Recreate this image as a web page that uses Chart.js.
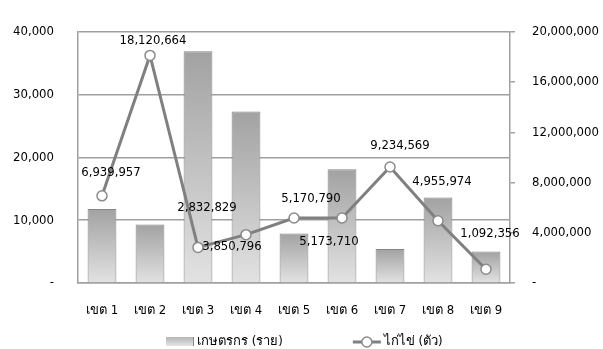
<!DOCTYPE html>
<html>
<head>
<meta charset="utf-8">
<script src="https://cdn.jsdelivr.net/npm/chart.js@4"></script>
<style>
  html, body { margin: 0; padding: 0; background: #fff; }
  #wrap { width: 603px; height: 349px; }
</style>
</head>
<body>
<div id="wrap"><canvas id="myChart" width="603" height="349"></canvas></div>
<script>
// data
const categories = ['เขต 1', 'เขต 2', 'เขต 3', 'เขต 4', 'เขต 5', 'เขต 6', 'เขต 7', 'เขต 8', 'เขต 9'];
const farmers = [11800, 9300, 36900, 27300, 7900, 18100, 5400, 13600, 5000];
const hens = [6939957, 18120664, 2832829, 3850796, 5170790, 5173710, 9234569, 4955974, 1092356];
const farmersLabel = 'เกษตรกร (ราย)';
const hensLabel = 'ไก่ไข่ (ตัว)';

// where each line label sits relative to its point
const labelOffsets = [[9, -23], [3, -15], [9, -40], [-14, 12], [17, -19], [-13, 24], [10, -21], [4, -39], [4, -36]];

const font = '"DejaVu Sans Condensed", "DejaVu Sans", sans-serif';
Chart.defaults.font.family = font;
Chart.defaults.font.size = 13;
Chart.defaults.color = '#000';

// each bar gets its own dark-top / light-bottom gradient
function barFill(context) {
    const chart = context.chart;
    const area = chart.chartArea;
    if (!area || context.type !== 'data') return '#c0c0c0';
    const top = chart.scales.y.getPixelForValue(context.raw);
    const g = chart.ctx.createLinearGradient(0, top, 0, area.bottom);
    g.addColorStop(0, '#a2a2a2');
    g.addColorStop(1, '#e2e2e2');
    return g;
}

const lineLabels = {
    id: 'lineLabels',
    afterDatasetsDraw(chart) {
        const ctx = chart.ctx;
        const meta = chart.getDatasetMeta(1);
        ctx.save();
        ctx.font = '13px ' + font;
        ctx.fillStyle = '#000';
        ctx.textAlign = 'center';
        ctx.textBaseline = 'middle';
        meta.data.forEach((pt, i) => {
            const o = labelOffsets[i];
            ctx.fillText(hens[i].toLocaleString('en-US'), pt.x + o[0], pt.y + o[1]);
        });
        ctx.restore();
    }
};

// legend drawn by hand so the spacing matches the original
const bottomLegend = {
    id: 'bottomLegend',
    afterDraw(chart) {
        const ctx = chart.ctx;
        ctx.save();
        ctx.font = '13px ' + font;
        ctx.textBaseline = 'middle';
        ctx.textAlign = 'left';
        const y = chart.height - 7;
        const w1 = ctx.measureText(farmersLabel).width;
        const w2 = ctx.measureText(hensLabel).width;
        const total = 28 + 3 + w1 + 70 + 28 + 3 + w2;
        let x = Math.round(chart.width / 2 + 3 - total / 2);

        // bar swatch
        const g = ctx.createLinearGradient(0, y - 5, 0, y + 4);
        g.addColorStop(0, '#b4b4b4');
        g.addColorStop(1, '#e4e4e4');
        ctx.fillStyle = g;
        ctx.fillRect(x, y - 5, 28, 9);
        ctx.strokeStyle = '#8a8a8a';
        ctx.lineWidth = 1;
        ctx.beginPath();
        ctx.moveTo(x + 27.5, y - 5); ctx.lineTo(x + 27.5, y + 4);
        ctx.stroke();
        x += 31;
        ctx.fillStyle = '#000';
        ctx.fillText(farmersLabel, x, y);
        x += w1 + 70;

        // line swatch
        ctx.strokeStyle = '#808080';
        ctx.lineWidth = 3;
        ctx.beginPath(); ctx.moveTo(x, y); ctx.lineTo(x + 28, y); ctx.stroke();
        ctx.fillStyle = '#fff';
        ctx.lineWidth = 1.5;
        ctx.strokeStyle = '#8a8a8a';
        ctx.beginPath(); ctx.arc(x + 14, y, 5, 0, Math.PI * 2); ctx.fill(); ctx.stroke();
        x += 31;
        ctx.fillStyle = '#000';
        ctx.fillText(hensLabel, x, y);
        ctx.restore();
    }
};

const ctx = document.getElementById('myChart').getContext('2d');
const chart = new Chart(ctx, {
    data: {
        labels: categories,
        datasets: [{
            type: 'bar',
            label: farmersLabel,
            data: farmers,
            yAxisID: 'y',
            backgroundColor: barFill,
            borderColor: '#858585',
            borderWidth: 1,
            barPercentage: 0.6,
            categoryPercentage: 1,
            order: 2
        }, {
            type: 'line',
            label: hensLabel,
            data: hens,
            yAxisID: 'y1',
            borderColor: '#808080',
            borderWidth: 3,
            pointRadius: 5,
            pointBackgroundColor: '#fff',
            pointBorderColor: '#8a8a8a',
            pointBorderWidth: 1.5,
            tension: 0,
            order: 1
        }]
    },
    options: {
        responsive: false,
        animation: false,
        layout: { padding: { top: 25, left: 0, right: 0, bottom: 24 } },
        plugins: {
            tooltip: { enabled: false },
            legend: { display: false }
        },
        scales: {
            x: {
                afterFit: s => { s.height = 42; },
                grid: { display: false },
                border: { color: '#a0a0a0', width: 1.5 },
                ticks: { padding: 12, maxRotation: 0 }
            },
            y: {
                position: 'left',
                min: 0,
                max: 40000,
                afterFit: s => { s.width = 78; },
                grid: { color: '#a0a0a0', lineWidth: 1.5, drawTicks: false },
                border: { color: '#a0a0a0', width: 1.5 },
                ticks: {
                    stepSize: 10000,
                    padding: 24,
                    callback: v => v === 0 ? '-' : v.toLocaleString('en-US')
                }
            },
            y1: {
                position: 'right',
                min: 0,
                max: 20000000,
                afterFit: s => { s.width = 93; },
                grid: { drawOnChartArea: false, color: '#a0a0a0', lineWidth: 1.5, tickLength: 5 },
                border: { color: '#a0a0a0', width: 1.5 },
                ticks: {
                    stepSize: 4000000,
                    padding: 17,
                    callback: v => v === 0 ? '-' : v.toLocaleString('en-US')
                }
            }
        }
    },
    plugins: [lineLabels, bottomLegend]
});
</script>
</body>
</html>
